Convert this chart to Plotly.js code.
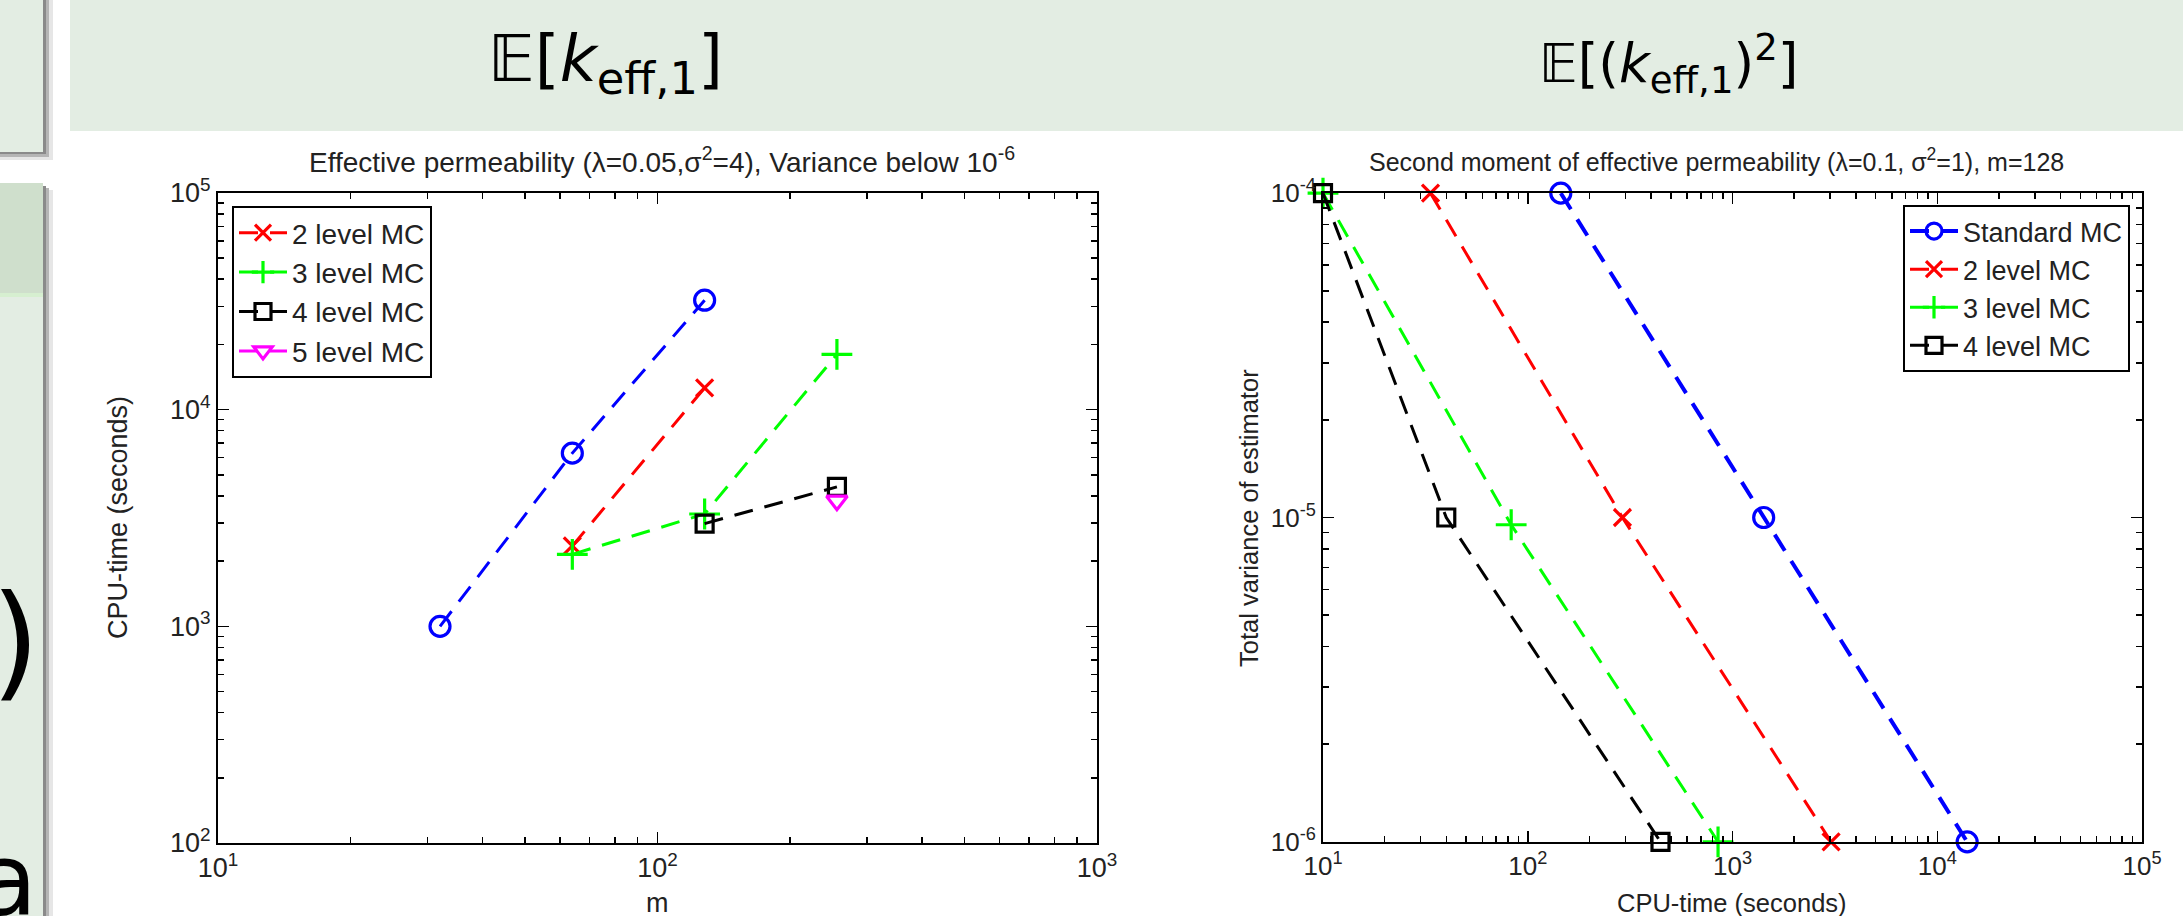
<!DOCTYPE html>
<html>
<head>
<meta charset="utf-8">
<script src="https://cdn.plot.ly/plotly-3.0.1.min.js"></script>
<style>
  html, body { margin: 0; padding: 0; background: #ffffff; }
  #chart { width: 2183px; height: 916px; }
</style>
</head>
<body>
<div id="chart"></div>
<script>
// ---------- data ----------
// Left panel: CPU-time (s) vs m, variance below 1e-6
const leftStdM   = [32, 64, 128];
const leftStdT   = [1000, 6300, 32000];
const left2M     = [64, 128];
const left2T     = [2350, 12600];
const left3M     = [64, 128, 256];
const left3T     = [2150, 3300, 18000];
const left4M     = [128, 256];
const left4T     = [2980, 4400];
const left5M     = [256];
const left5T     = [3800];

// Right panel: total variance vs CPU-time (s), m = 128
const rightStdCpu = [145, 1420, 14000];
const rightStdVar = [1e-4, 1e-5, 1e-6];
const right2Cpu   = [33.5, 290, 3030];
const right2Var   = [1e-4, 1e-5, 1e-6];
const right3Cpu   = [10, 83, 850];
const right3Var   = [1e-4, 9.5e-6, 1e-6];
const right4Cpu   = [10, 40, 445];
const right4Var   = [1e-4, 1e-5, 1e-6];

const seriesNames = ['Standard MC', '2 level MC', '3 level MC', '4 level MC', '5 level MC'];

// tick labels
const leftXTickVals  = [10, 100, 1000];
const leftXTickText  = ['10<sup>1</sup>', '10<sup>2</sup>', '10<sup>3</sup>'];
const leftYTickVals  = [100, 1000, 10000, 100000];
const leftYTickText  = ['10<sup>2</sup>', '10<sup>3</sup>', '10<sup>4</sup>', '10<sup>5</sup>'];
const rightXTickVals = [10, 100, 1000, 10000, 100000];
const rightXTickText = ['10<sup>1</sup>', '10<sup>2</sup>', '10<sup>3</sup>', '10<sup>4</sup>', '10<sup>5</sup>'];
const rightYTickVals = [1e-6, 1e-5, 1e-4];
const rightYTickText = ['10<sup>-6</sup>', '10<sup>-5</sup>', '10<sup>-4</sup>'];

// ---------- styling ----------
const W = 2183, H = 916;
const px = x => x / W;
const py = y => 1 - y / H;
const FONT = 'Liberation Sans Narrow, Arial Narrow, Liberation Sans, Arial, sans-serif';
const DASH = '19px,12px';
const C = { std: '#0000ff', l2: '#ff0000', l3: '#00ff00', l4: '#000000', l5: '#ff00ff' };

function tr(x, y, name, color, symbol, size, opts) {
  opts = opts || {};
  return Object.assign({
    type: 'scatter', mode: 'lines+markers', x: x, y: y, name: name,
    line: { color: color, width: opts.lw || 3, dash: DASH },
    marker: { symbol: symbol, size: size, color: color, line: { color: color, width: 3.2 } },
    cliponaxis: false
  }, opts.extra || {});
}

const data = [
  tr(leftStdM, leftStdT, seriesNames[0], C.std, 'circle-open', 20, { extra: { xaxis: 'x', yaxis: 'y', showlegend: false } }),
  tr(left2M, left2T, seriesNames[1], C.l2, 'x-thin-open', 17, { extra: { xaxis: 'x', yaxis: 'y', legend: 'legend' } }),
  tr(left3M, left3T, seriesNames[2], C.l3, 'cross-thin-open', 22, { extra: { xaxis: 'x', yaxis: 'y', legend: 'legend' } }),
  tr(left4M, left4T, seriesNames[3], C.l4, 'square-open', 17, { extra: { xaxis: 'x', yaxis: 'y', legend: 'legend' } }),
  tr(left5M, left5T, seriesNames[4], C.l5, 'triangle-down-open', 18, { extra: { xaxis: 'x', yaxis: 'y', legend: 'legend' } }),

  tr(rightStdCpu, rightStdVar, seriesNames[0], C.std, 'circle-open', 20, { lw: 4, extra: { xaxis: 'x2', yaxis: 'y2', legend: 'legend2' } }),
  tr(right2Cpu, right2Var, seriesNames[1], C.l2, 'x-thin-open', 17, { extra: { xaxis: 'x2', yaxis: 'y2', legend: 'legend2' } }),
  tr(right3Cpu, right3Var, seriesNames[2], C.l3, 'cross-thin-open', 22, { extra: { xaxis: 'x2', yaxis: 'y2', legend: 'legend2' } }),
  tr(right4Cpu, right4Var, seriesNames[3], C.l4, 'square-open', 17, { extra: { xaxis: 'x2', yaxis: 'y2', legend: 'legend2' } })
];

function axis(domain, range, tickvals, ticktext, anchor, fs) {
  return {
    type: 'log', domain: domain, range: range, anchor: anchor,
    tickmode: 'array', tickvals: tickvals, ticktext: ticktext,
    ticks: 'inside', ticklen: 11, tickwidth: 1.5, tickcolor: '#000',
    minor: { ticks: 'inside', ticklen: 6, tickwidth: 1.5, tickcolor: '#000', dtick: 'D1', showgrid: false },
    showline: true, linecolor: '#000', linewidth: 2, mirror: 'ticks',
    showgrid: false, zeroline: false, automargin: false,
    tickfont: { family: FONT, size: fs, color: '#222' }
  };
}

// background shapes (slide decoration)
const LIGHT = '#e3ede3', DARK = '#cfdfcc';
const shapes = [
  // header band
  { type: 'rect', xref: 'paper', yref: 'paper', x0: px(70), x1: px(W), y0: py(131), y1: py(0), fillcolor: LIGHT, line: { width: 0 }, layer: 'below' },
  // left block 1 shadow + body
  { type: 'rect', xref: 'paper', yref: 'paper', x0: px(0), x1: px(53), y0: py(160), y1: py(0), fillcolor: '#e6e6e6', line: { width: 0 }, layer: 'below' },
  { type: 'rect', xref: 'paper', yref: 'paper', x0: px(0), x1: px(49), y0: py(157), y1: py(0), fillcolor: '#b5b5b5', line: { width: 0 }, layer: 'below' },
  { type: 'rect', xref: 'paper', yref: 'paper', x0: px(0), x1: px(46), y0: py(154), y1: py(0), fillcolor: '#8a8a8a', line: { width: 0 }, layer: 'below' },
  { type: 'rect', xref: 'paper', yref: 'paper', x0: px(0), x1: px(43), y0: py(152), y1: py(0), fillcolor: LIGHT, line: { width: 0 }, layer: 'below' },
  // left block 2 shadow + header + body
  { type: 'rect', xref: 'paper', yref: 'paper', x0: px(0), x1: px(53), y0: py(H), y1: py(190), fillcolor: '#e6e6e6', line: { width: 0 }, layer: 'below' },
  { type: 'rect', xref: 'paper', yref: 'paper', x0: px(0), x1: px(49), y0: py(H), y1: py(188), fillcolor: '#b5b5b5', line: { width: 0 }, layer: 'below' },
  { type: 'rect', xref: 'paper', yref: 'paper', x0: px(0), x1: px(46), y0: py(H), y1: py(186), fillcolor: '#8a8a8a', line: { width: 0 }, layer: 'below' },
  { type: 'rect', xref: 'paper', yref: 'paper', x0: px(0), x1: px(43), y0: py(293), y1: py(183), fillcolor: DARK, line: { width: 0 }, layer: 'below' },
  { type: 'rect', xref: 'paper', yref: 'paper', x0: px(0), x1: px(43), y0: py(297), y1: py(293), fillcolor: '#d6efd0', line: { width: 0 }, layer: 'below' },
  { type: 'rect', xref: 'paper', yref: 'paper', x0: px(0), x1: px(43), y0: py(H), y1: py(297), fillcolor: LIGHT, line: { width: 0 }, layer: 'below' }
];

function ann(text, x, y, size, opts) {
  return Object.assign({
    text: text, xref: 'paper', yref: 'paper', x: px(x), y: py(y),
    xanchor: 'center', yanchor: 'middle', showarrow: false,
    font: { family: FONT, size: size, color: '#222' }
  }, opts || {});
}

const MATH = 'Liberation Sans Narrow, DejaVu Sans, Noto Sans, sans-serif';
const annotations = [
  // slide headers
  ann('𝔼[<i>k</i><sub>eff,1</sub>]', 605, 64, 64, { font: { family: MATH, size: 64, color: '#000' } }),
  ann('𝔼[(<i>k</i><sub>eff,1</sub>)<sup>2</sup>]', 1668, 64, 53, { font: { family: MATH, size: 53, color: '#000' } }),
  // slide fragments at left edge
  ann(')', 42, 640, 125, { xanchor: 'right', font: { family: 'DejaVu Sans, sans-serif', size: 125, color: '#000' } }),
  ann('a', 39, 880, 100, { xanchor: 'right', font: { family: 'DejaVu Sans, sans-serif', size: 100, color: '#000' } }),
  // plot titles
  ann('Effective permeability (λ=0.05,σ<sup>2</sup>=4), Variance below 10<sup>-6</sup>', 662, 160, 28),
  ann('Second moment of effective permeability (λ=0.1, σ<sup>2</sup>=1), m=128', 1716, 160, 25),
  // axis titles
  ann('CPU-time (seconds)', 118, 518, 27, { textangle: -90 }),
  ann('m', 657, 903, 27),
  ann('Total variance of estimator', 1249, 518, 25.5, { textangle: -90 }),
  ann('CPU-time (seconds)', 1732, 903, 25.5)
];

const legendBase = {
  xref: 'paper', yref: 'paper', yanchor: 'top',
  bgcolor: '#ffffff', bordercolor: '#000', borderwidth: 2,
  font: { family: FONT, size: 28, color: '#222' },
  tracegroupgap: 0, itemwidth: 48
};

const layout = {
  width: W, height: H,
  margin: { l: 0, r: 0, t: 0, b: 0, pad: 0 },
  paper_bgcolor: '#ffffff', plot_bgcolor: '#ffffff',
  showlegend: true,
  xaxis:  axis([px(218), px(1097)], [1, 3], leftXTickVals, leftXTickText, 'y', 27),
  yaxis:  axis([py(843), py(193)], [2, 5], leftYTickVals, leftYTickText, 'x', 27),
  xaxis2: axis([px(1323), px(2142)], [1, 5], rightXTickVals, rightXTickText, 'y2', 26),
  yaxis2: axis([py(842), py(193)], [-6.0005, -3.9995], rightYTickVals, rightYTickText, 'x2', 26),
  legend:  Object.assign({}, legendBase, { x: px(232), y: py(206), xanchor: 'left' }),
  legend2: Object.assign({}, legendBase, { x: px(2130), y: py(205), xanchor: 'right', font: { family: FONT, size: 27, color: '#222' } }),
  shapes: shapes,
  annotations: annotations
};

Plotly.newPlot('chart', data, layout, { staticPlot: true, displayModeBar: false });
</script>
</body>
</html>
